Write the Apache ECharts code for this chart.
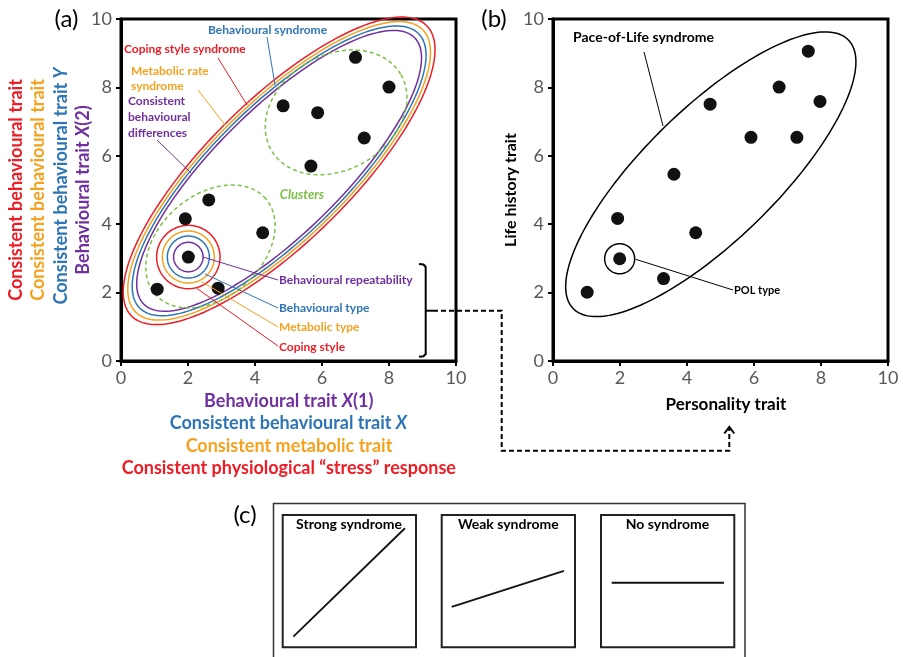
<!DOCTYPE html>
<html>
<head>
<meta charset="utf-8">
<script src="https://cdn.jsdelivr.net/npm/echarts@6/dist/echarts.min.js"></script>
<style>html,body{margin:0;padding:0;background:#fff;}#main{width:903px;height:657px;}</style>
</head>
<body>
<div id="main"></div>
<script>
// ---------- DATA ----------
const axisTicks = [0, 2, 4, 6, 8, 10];
// Panel (a) individuals
const ptsAx = [7.0, 8.0, 4.84, 5.87, 7.26, 5.67, 2.62, 1.92, 4.23, 2.01, 1.08, 2.90];
const ptsAy = [8.88, 8.01, 7.46, 7.26, 6.52, 5.70, 4.71, 4.16, 3.75, 3.04, 2.10, 2.13];
// Panel (b) individuals
const ptsBx = [1.02, 1.93, 1.99, 3.30, 4.26, 3.61, 4.69, 5.91, 6.75, 7.28, 7.62, 7.97];
const ptsBy = [2.01, 4.17, 2.99, 2.41, 3.75, 5.46, 7.51, 6.54, 8.01, 6.54, 9.06, 7.59];
// Panel (a) syndrome ellipses (red, orange, blue, purple)
const synCenter = [4.72, 5.56];
const synMajor = [6.18, 6.01, 5.84, 5.67];
const synMinor = [2.13, 2.04, 1.96, 1.87];
const synAngle = 44.5;
// Panel (a) cluster ellipses
const clusterCx = [6.42, 2.67];
const clusterCy = [7.27, 3.35];
const clusterMajor = [2.24, 2.18];
const clusterMinor = [1.71, 1.53];
const clusterAngle = [30.6, 40.7];
// Panel (a) individual-level circles around focal point
const typeCenter = [2.01, 3.04];
const typeRadius = [0.946, 0.776, 0.627, 0.44];
// Panel (b) POL ellipse and POL type circle
const polCenter = [4.71, 5.46];
const polMajor = 5.74;
const polMinor = 1.97;
const polAngle = 44.3;
const polTypeCenter = [1.99, 2.99];
const polTypeRadius = 0.448;
// Panel (c) syndrome lines (normalised box coordinates)
const strongX = [0.08, 0.917], strongY = [0.08, 0.90];
const weakX = [0.075, 0.917], weakY = [0.305, 0.577];
const noneX = [0.08, 0.923], noneY = [0.488, 0.488];

// ---------- STYLE ----------
const RED = '#EE1C25', ORANGE = '#F4A21F', BLUE = '#2E75B6', PURPLE = '#7030A0', GREEN = '#7AC143';
const traitColors = [RED, ORANGE, BLUE, PURPLE];
const FONT = 'Lato';

const chart = echarts.init(document.getElementById('main'), null, {renderer: 'canvas'});

function ellipseRender(params, api) {
  const cx = api.value(0), cy = api.value(1), a = api.value(2), b = api.value(3), ang = api.value(4) * Math.PI / 180;
  const c = api.coord([cx, cy]);
  const sx = api.size([1, 1]);
  const ra = a * sx[0], rb = b * sx[0];
  const pts = [];
  const N = 160;
  for (let i = 0; i < N; i++) {
    const t = i / N * Math.PI * 2;
    const ex = ra * Math.cos(t), ey = rb * Math.sin(t);
    pts.push([c[0] + ex * Math.cos(ang) - ey * Math.sin(ang), c[1] - (ex * Math.sin(ang) + ey * Math.cos(ang))]);
  }
  const col = api.value(5);
  const dashed = api.value(6);
  const lw = api.value(7);
  return {
    type: 'polygon',
    shape: {points: pts},
    style: {fill: 'none', stroke: col, lineWidth: lw, lineDash: dashed ? [4, 3] : null}
  };
}

const ellDataA = [];
for (let i = 0; i < 4; i++) ellDataA.push([synCenter[0], synCenter[1], synMajor[i], synMinor[i], synAngle, traitColors[i], 0, 1.5]);
for (let i = 0; i < 2; i++) ellDataA.push([clusterCx[i], clusterCy[i], clusterMajor[i], clusterMinor[i], clusterAngle[i], GREEN, 1, 1.5]);
for (let i = 0; i < 4; i++) ellDataA.push([typeCenter[0], typeCenter[1], typeRadius[i], typeRadius[i], 0, traitColors[i], 0, 1.5]);
const ellDataB = [
  [polCenter[0], polCenter[1], polMajor, polMinor, polAngle, '#000', 0, 1.5],
  [polTypeCenter[0], polTypeCenter[1], polTypeRadius, polTypeRadius, 0, '#000', 0, 1.5]
];

function mainX(gi) {
  return {
    gridIndex: gi, type: 'value', min: 0, max: 10, interval: 2,
    axisLine: {show: true, onZero: false, lineStyle: {color: '#000', width: 3}},
    axisTick: {show: true, inside: false, length: 5, lineStyle: {color: '#000', width: 2}},
    axisLabel: {color: '#595959', fontSize: 18, fontFamily: FONT, margin: 8,
      formatter: v => axisTicks.indexOf(v) >= 0 ? String(v) : ''},
    splitLine: {show: false}
  };
}
function mainY(gi) {
  const ax = mainX(gi);
  ax.axisLabel = Object.assign({}, ax.axisLabel, {margin: 9});
  return ax;
}
function hidden(gi) {
  return {gridIndex: gi, type: 'value', min: 0, max: 1, show: false, splitLine: {show: false}};
}

function txt(t, x, y, color, size, opts) {
  opts = opts || {};
  return {
    type: 'text', x: x, y: y, rotation: opts.rot || 0, z: 100,
    style: {
      text: t, fill: color,
      font: (opts.italic ? 'italic ' : '') + (opts.weight || 'bold') + ' ' + size + 'px ' + FONT,
      align: opts.align || 'left', textAlign: opts.align || 'left',
      verticalAlign: 'middle', textVerticalAlign: 'middle',
      lineHeight: opts.lh || size * 1.2,
      rich: opts.rich
    }
  };
}
function richTxt(t, x, y, color, size, rot) {
  return {
    type: 'text', x: x, y: y, rotation: rot || 0, z: 100,
    style: {
      text: t, align: 'center', textAlign: 'center', verticalAlign: 'middle', textVerticalAlign: 'middle',
      rich: {
        n: {fill: color, color: color, fontSize: size, fontWeight: 'bold', fontFamily: FONT},
        i: {fill: color, color: color, fontSize: size, fontWeight: 'bold', fontStyle: 'italic', fontFamily: FONT}
      }
    }
  };
}
function ln(x1, y1, x2, y2, color, w) {
  return {type: 'line', z: 90, shape: {x1: x1, y1: y1, x2: x2, y2: y2}, style: {stroke: color, lineWidth: w || 1}};
}
function pl(points, color, w, dash) {
  return {type: 'polyline', z: 90, shape: {points: points}, style: {stroke: color, lineWidth: w, fill: 'none', lineDash: dash || null}};
}

const graphics = [
  // panel labels
  txt('(a)', 66.5, 19, '#000', 24, {weight: 'normal', align: 'center'}),
  txt('(b)', 494, 19, '#000', 24, {weight: 'normal', align: 'center'}),
  txt('(c)', 245, 515, '#000', 24, {weight: 'normal', align: 'center'}),
  // (a) annotations
  txt('Behavioural syndrome', 267.5, 30, BLUE, 12, {align: 'center'}),
  ln(267, 37, 275, 85, BLUE),
  txt('Coping style syndrome', 124, 49.3, RED, 12),
  ln(218, 58, 247, 105, RED),
  txt('Metabolic rate\nsyndrome', 131, 78.5, ORANGE, 12, {lh: 15.5}),
  ln(198, 90, 225, 125, ORANGE),
  txt('Consistent\nbehavioural\ndifferences', 128, 117.5, PURPLE, 12, {lh: 16}),
  ln(157, 140, 191, 173, PURPLE),
  txt('Clusters', 302, 195, GREEN, 13, {align: 'center', italic: true}),
  txt('Behavioural repeatability', 279, 280, PURPLE, 12),
  ln(203, 257, 278, 280, PURPLE),
  txt('Behavioural type', 279, 308.3, BLUE, 12),
  ln(205, 274, 278, 308, BLUE),
  txt('Metabolic type', 279, 327.3, ORANGE, 12),
  ln(201.7, 281.7, 278, 327, ORANGE),
  txt('Coping style', 279, 346.7, RED, 12),
  ln(196.7, 288.3, 278, 346, RED),
  // (a) axis titles, y
  richTxt('{n|Consistent behavioural trait}', 16, 190, RED, 18, Math.PI / 2),
  richTxt('{n|Consistent behavioural trait}', 38.5, 190, ORANGE, 18, Math.PI / 2),
  richTxt('{n|Consistent behavioural trait }{i|Y}', 61, 186, BLUE, 18, Math.PI / 2),
  richTxt('{n|Behavioural trait }{i|X}{n|(2)}', 83, 190, PURPLE, 18, Math.PI / 2),
  // (a) axis titles, x
  richTxt('{n|Behavioural trait }{i|X}{n|(1)}', 288.7, 400.7, PURPLE, 18),
  richTxt('{n|Consistent behavioural trait }{i|X}', 288.5, 423.3, BLUE, 18),
  richTxt('{n|Consistent metabolic trait}', 289, 446, ORANGE, 18),
  richTxt('{n|Consistent physiological \u201cstress\u201d response}', 288.8, 468.3, RED, 18),
  // (b) annotations
  txt('Pace-of-Life syndrome', 643.5, 37.3, '#000', 14, {align: 'center'}),
  ln(644, 52, 663, 126, '#000'),
  txt('POL type', 734, 290, '#000', 11),
  ln(635.7, 259.3, 733, 290, '#000'),
  txt('Personality trait', 726, 405, '#000', 17, {align: 'center'}),
  txt('Life history trait', 510.8, 190, '#000', 16, {align: 'center', rot: Math.PI / 2}),
  // bracket & connector
  pl([[419, 264], [423.5, 264.5], [425.7, 267], [425.7, 354], [423.5, 356.3], [419, 356.7]], '#000', 2),
  ln(425.7, 310.7, 433, 310.7, '#000', 2),
  pl([[433, 310.7], [501.7, 310.7], [501.7, 450.7], [729.3, 450.7], [729.3, 428.5]], '#000', 2, [5, 3]),
  pl([[724.3, 433.5], [729.3, 427], [734.3, 433.5]], '#000', 2),
  // (c) outer box
  {type: 'rect', z: 1, shape: {x: 273.5, y: 503.5, width: 471.5, height: 170}, style: {fill: 'none', stroke: '#333', lineWidth: 1.5}},
  txt('Strong syndrome', 349, 524.3, '#000', 14, {align: 'center'}),
  txt('Weak syndrome', 508.3, 524.3, '#000', 14, {align: 'center'}),
  txt('No syndrome', 667.5, 524.3, '#000', 14, {align: 'center'})
];

const boxGrid = (left) => ({left: left, top: 515, width: 133.3, height: 132.3, show: true, borderColor: '#222', borderWidth: 2, backgroundColor: 'transparent'});

const option = {
  animation: false,
  backgroundColor: '#fff',
  grid: [
    {left: 121, top: 19, width: 335, height: 342, show: true, borderColor: '#000', borderWidth: 3, backgroundColor: 'transparent'},
    {left: 553, top: 19, width: 335, height: 342, show: true, borderColor: '#000', borderWidth: 3, backgroundColor: 'transparent'},
    boxGrid(282.7), boxGrid(441.7), boxGrid(601)
  ],
  xAxis: [mainX(0), mainX(1), hidden(2), hidden(3), hidden(4)],
  yAxis: [mainY(0), mainY(1), hidden(2), hidden(3), hidden(4)],
  graphic: graphics,
  series: [
    {type: 'custom', xAxisIndex: 0, yAxisIndex: 0, renderItem: ellipseRender, data: ellDataA, encode: {x: 0, y: 1}, z: 3, silent: true},
    {type: 'custom', xAxisIndex: 1, yAxisIndex: 1, renderItem: ellipseRender, data: ellDataB, encode: {x: 0, y: 1}, z: 3, silent: true},
    {type: 'scatter', xAxisIndex: 0, yAxisIndex: 0, symbolSize: 13, itemStyle: {color: '#111', opacity: 1}, z: 5,
      data: ptsAx.map((x, i) => [x, ptsAy[i]])},
    {type: 'scatter', xAxisIndex: 1, yAxisIndex: 1, symbolSize: 13, itemStyle: {color: '#111', opacity: 1}, z: 5,
      data: ptsBx.map((x, i) => [x, ptsBy[i]])},
    {type: 'line', xAxisIndex: 2, yAxisIndex: 2, showSymbol: false, lineStyle: {color: '#111', width: 1.8},
      data: strongX.map((x, i) => [x, strongY[i]])},
    {type: 'line', xAxisIndex: 3, yAxisIndex: 3, showSymbol: false, lineStyle: {color: '#111', width: 1.8},
      data: weakX.map((x, i) => [x, weakY[i]])},
    {type: 'line', xAxisIndex: 4, yAxisIndex: 4, showSymbol: false, lineStyle: {color: '#111', width: 1.8},
      data: noneX.map((x, i) => [x, noneY[i]])}
  ]
};
chart.setOption(option);
</script>
</body>
</html>
